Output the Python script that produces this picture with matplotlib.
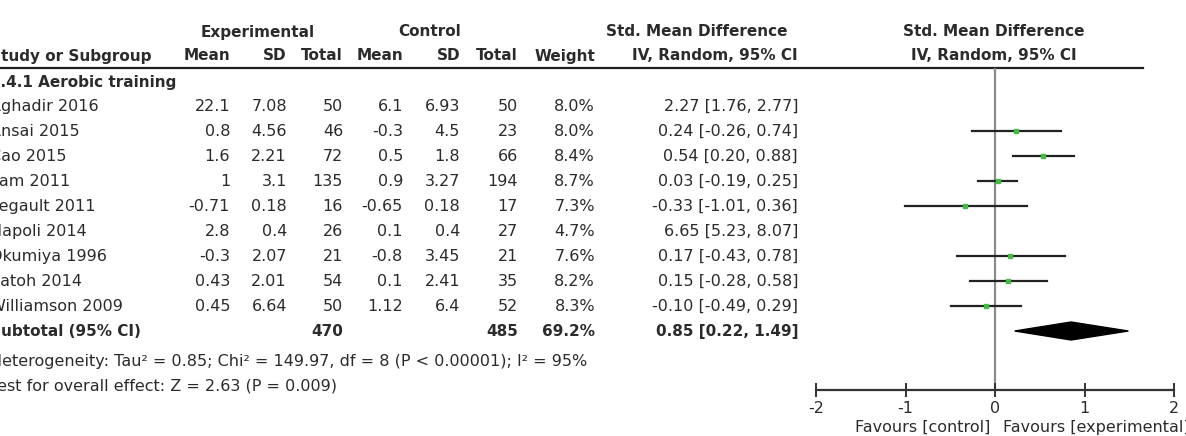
import matplotlib
matplotlib.use('Agg')
import matplotlib.pyplot as plt

# study level data
studies = ['Aghadir 2016', 'Ansai 2015', 'Cao 2015', 'Lam 2011', 'Legault 2011',
           'Napoli 2014', 'Okumiya 1996', 'Satoh 2014', 'Williamson 2009']
exp_mean = [22.1, 0.8, 1.6, 1, -0.71, 2.8, -0.3, 0.43, 0.45]
exp_sd = [7.08, 4.56, 2.21, 3.1, 0.18, 0.4, 2.07, 2.01, 6.64]
exp_n = [50, 46, 72, 135, 16, 26, 21, 54, 50]
ctl_mean = [6.1, -0.3, 0.5, 0.9, -0.65, 0.1, -0.8, 0.1, 1.12]
ctl_sd = [6.93, 4.5, 1.8, 3.27, 0.18, 0.4, 3.45, 2.41, 6.4]
ctl_n = [50, 23, 66, 194, 17, 27, 21, 35, 52]
weight = [8.0, 8.0, 8.4, 8.7, 7.3, 4.7, 7.6, 8.2, 8.3]
smd = [2.27, 0.24, 0.54, 0.03, -0.33, 6.65, 0.17, 0.15, -0.10]
ci_lo = [1.76, -0.26, 0.20, -0.19, -1.01, 5.23, -0.43, -0.28, -0.49]
ci_hi = [2.77, 0.74, 0.88, 0.25, 0.36, 8.07, 0.78, 0.58, 0.29]

# subtotal
sub_label = 'Subtotal (95% CI)'
sub_exp_n = 470
sub_ctl_n = 485
sub_weight = 69.2
sub_smd, sub_lo, sub_hi = 0.85, 0.22, 1.49
heterogeneity = 'Heterogeneity: Tau² = 0.85; Chi² = 149.97, df = 8 (P < 0.00001); I² = 95%'
overall = 'Test for overall effect: Z = 2.63 (P = 0.009)'
subgroup = '1.4.1 Aerobic training'
x_ticks = [-2, -1, 0, 1, 2]

TXT = '#2b2b2b'
FS = 11.5      # regular text
FSB = 11       # bold header text
plt.rcParams['font.family'] = ['DejaVu Sans']

W, H = 1186, 436
fig = plt.figure(figsize=(W / 100, H / 100), dpi=100)

# table axes, pixel units, y going down
tab = fig.add_axes([0, 0, 1, 1])
tab.set_xlim(0, W)
tab.set_ylim(H, 0)
tab.axis('off')

# row layout (pixels from top)
row0, step = 106, 25
rows = [row0 + step * i for i in range(len(studies))]
sub_row = rows[-1] + step
line_y = 68

def t(x, y, s, ha='right', bold=False, **kw):
    tab.text(x, y, s, ha=ha, va='center', fontsize=FSB if bold else FS, color=TXT,
             fontweight='bold' if bold else 'normal', clip_on=False, **kw)

name_x = -10
cols = [230, 287, 343, 403, 460, 518, 595, 798]

# headers
t(258, 32, 'Experimental', ha='center', bold=True)
t(430, 32, 'Control', ha='center', bold=True)
t(697, 32, 'Std. Mean Difference', ha='center', bold=True)
t(994, 32, 'Std. Mean Difference', ha='center', bold=True)
t(name_x, 56, 'Study or Subgroup', ha='left', bold=True)
for x, s in zip(cols, ['Mean', 'SD', 'Total', 'Mean', 'SD', 'Total', 'Weight',
                       'IV, Random, 95% CI']):
    t(x, 56, s, bold=True)
t(994, 56, 'IV, Random, 95% CI', ha='center', bold=True)
tab.plot([0, 1143], [line_y, line_y], color='#222', lw=1.6)

t(name_x, 83, subgroup, ha='left', bold=True)

for i, y in enumerate(rows):
    t(name_x, y, studies[i], ha='left')
    vals = ['%g' % exp_mean[i], '%g' % exp_sd[i], str(exp_n[i]),
            '%g' % ctl_mean[i], '%g' % ctl_sd[i], str(ctl_n[i]),
            '%.1f%%' % weight[i],
            '%.2f [%.2f, %.2f]' % (smd[i], ci_lo[i], ci_hi[i])]
    for x, s in zip(cols, vals):
        t(x, y, s)

t(name_x, sub_row, sub_label, ha='left', bold=True)
t(cols[2], sub_row, str(sub_exp_n), bold=True)
t(cols[5], sub_row, str(sub_ctl_n), bold=True)
t(cols[6], sub_row, '%.1f%%' % sub_weight, bold=True)
t(cols[7], sub_row, '%.2f [%.2f, %.2f]' % (sub_smd, sub_lo, sub_hi), bold=True)
t(name_x, 361, heterogeneity, ha='left')
t(name_x, 386, overall, ha='left')

# forest axes: x from -2 (816px) to 2 (1174px), y from header line to axis
ax_x0, ax_x1, ax_y = 816, 1174, 390
ax = fig.add_axes([ax_x0 / W, (H - ax_y) / H, (ax_x1 - ax_x0) / W, (ax_y - line_y) / H])
ax.set_xlim(-2, 2)
ax.set_ylim(ax_y, line_y)
ax.patch.set_alpha(0)
for side in ['top', 'left', 'right']:
    ax.spines[side].set_visible(False)
ax.spines['bottom'].set_color('#333')
ax.spines['bottom'].set_linewidth(1.6)
ax.set_yticks([])
ax.set_xticks(x_ticks)
ax.set_xticklabels([str(v) for v in x_ticks])
ax.tick_params(axis='x', direction='inout', length=10, width=1.4, color='#333',
               labelsize=FS, labelcolor=TXT, pad=3)

ax.axvline(0, color='#8a8a8a', lw=1.6, zorder=1)

for i, y in enumerate(rows):
    if smd[i] > 2 or smd[i] < -2:
        continue
    ax.plot([ci_lo[i], ci_hi[i]], [y, y], color='#222', lw=1.6, zorder=2)
    ax.plot(smd[i], y, marker='s', ms=3.5, color='#44bb44', mec='#44bb44', zorder=3)

hh = 9
ax.fill([sub_lo, sub_smd, sub_hi, sub_smd], [sub_row, sub_row - hh, sub_row, sub_row + hh],
        color='black', zorder=3)

t(990, 427, 'Favours [control]')
t(1003, 427, 'Favours [experimental]', ha='left')

fig.savefig('out.png', dpi=100)
